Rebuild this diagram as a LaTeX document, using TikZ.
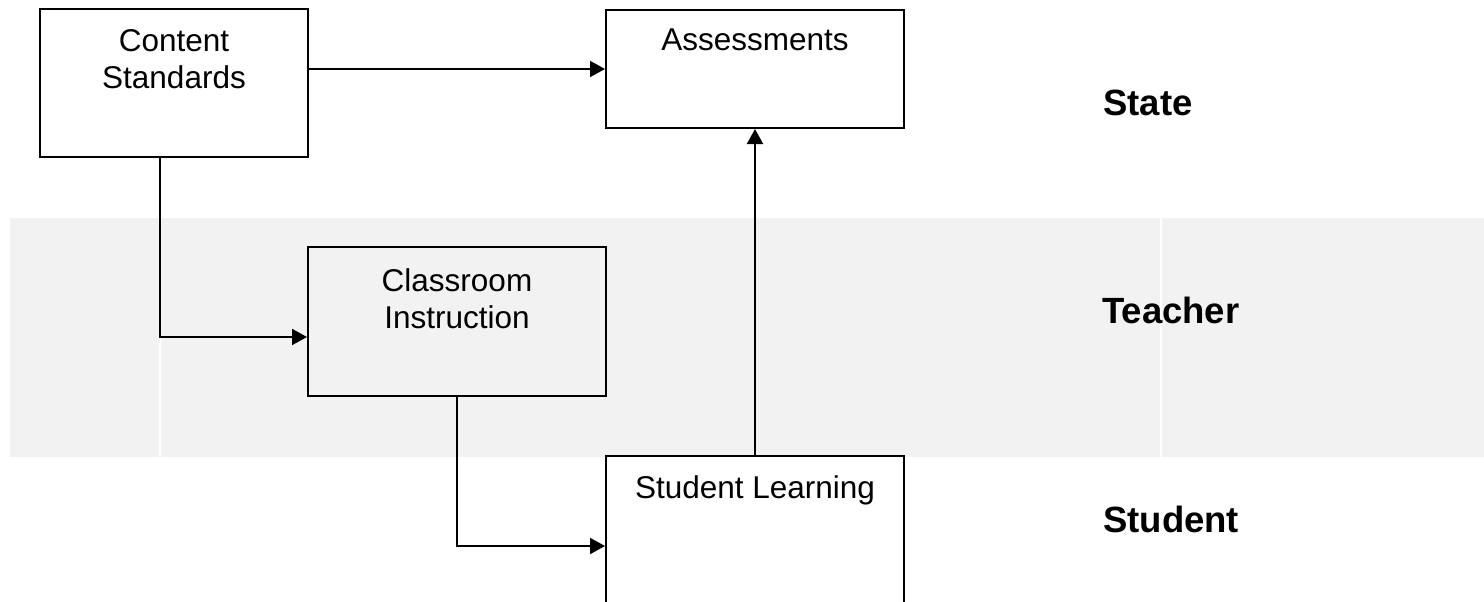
\documentclass[tikz,border=0pt]{standalone}
\usepackage{fontspec}
\setmainfont{Liberation Sans}
\usetikzlibrary{arrows.meta}
\definecolor{bandgray}{HTML}{F2F2F2}
\begin{document}
\begin{tikzpicture}[x=1pt,y=-1pt,
    box/.style={draw, line width=2pt, inner sep=0pt},
    boxtext/.style={anchor=north, inner sep=0pt, align=center, font=\fontsize{31.5}{37}\selectfont},
    lane/.style={anchor=base west, inner sep=0pt, font=\fontsize{36.5}{40}\selectfont\bfseries},
    conn/.style={line width=2pt, -{Triangle[length=15pt,width=16pt]}}]
      \useasboundingbox (0,0) rectangle (1484,602);
      \clip (0,0) rectangle (1484,602);
      % teacher band
      \fill[bandgray] (10,218) rectangle (1484,457);
      \draw[white, line width=1.5pt] (160,218) -- (160,457);
      \draw[white, line width=1.5pt] (1161,218) -- (1161,457);
      \node[box, minimum width=268pt, minimum height=148pt] (cs) at (174,83) {};
      \node[box, minimum width=298pt, minimum height=118pt] (as) at (755,69) {};
      \node[box, minimum width=298pt, minimum height=149pt] (ci) at (457,321.5) {};
      \node[box, minimum width=298pt, minimum height=180pt] (sl) at (755,546) {};
      \node[boxtext] (cs-text) at (174,29) {Content\\Standards};
      \node[boxtext] (as-text) at (755,29) {Assessments};
      \node[boxtext] (ci-text) at (457,268) {Classroom\\Instruction};
      \node[boxtext] (sl-text) at (755,475) {Student Learning};
      \node[lane] (state) at (1103,115) {State};
      \node[lane] (teacher) at (1102,323) {Teacher};
      \node[lane] (student) at (1103,532) {Student};
      \coordinate (b1) at (160,337);
      \coordinate (b2) at (457,546);
      \draw[conn] (cs.east |- as.west) -- (as.west);
      \draw[conn] (cs.south -| b1) -- (b1) -- (ci.west |- b1);
      \draw[conn] (ci.south) -- (b2) -- (sl.west |- b2);
      \draw[conn] (sl.north) -- (as.south);
    \end{tikzpicture}
\end{document}
